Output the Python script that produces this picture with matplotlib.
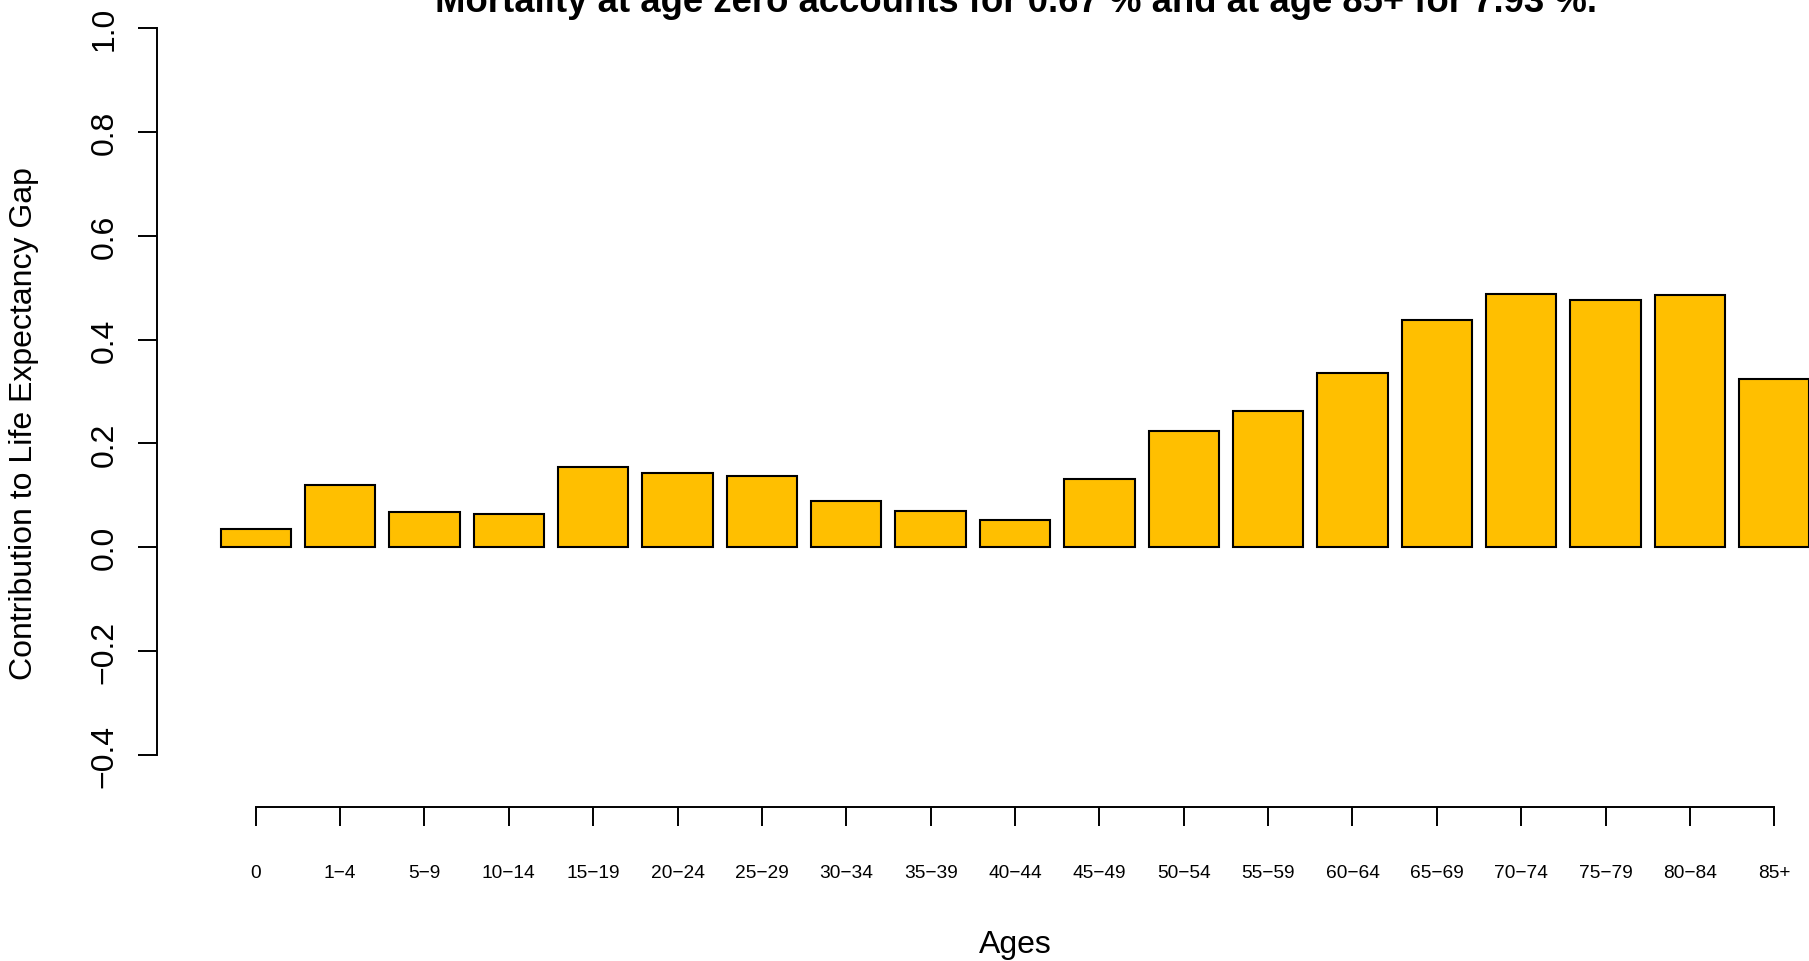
import matplotlib
matplotlib.use("Agg")
import matplotlib.pyplot as plt
import numpy as np

plt.rcParams['font.family'] = ['Liberation Sans', 'DejaVu Sans']

# Age groups and their contribution to the life expectancy gap
ages = ["0", "1-4", "5-9", "10-14", "15-19", "20-24", "25-29", "30-34", "35-39",
        "40-44", "45-49", "50-54", "55-59", "60-64", "65-69", "70-74", "75-79",
        "80-84", "85+"]
contrib = [0.036, 0.120, 0.068, 0.065, 0.155, 0.144, 0.138, 0.089, 0.070,
           0.053, 0.131, 0.223, 0.263, 0.336, 0.437, 0.488, 0.476, 0.485, 0.325]
yticks = [-0.4, -0.2, 0.0, 0.2, 0.4, 0.6, 0.8, 1.0]

title = "Mortality at age zero accounts for 0.67 % and at age 85+ for 7.93 %."
bar_color = "#FFBF00"

W, H = 1809, 962
fig = plt.figure(figsize=(W / 100, H / 100), dpi=100)

# plot region in pixels (R style barplot, right part cut off by the image edge)
px_left, px_right = 157, 1873
px_top, px_bottom = -0.1, 785.1
ax = fig.add_axes([px_left / W, (H - px_bottom) / H,
                   (px_right - px_left) / W, (px_bottom - px_top) / H])

# barplot geometry: width 1, space 0.2
n = len(ages)
centers = 0.7 + 1.2 * np.arange(n)
ax.bar(centers, contrib, width=1.0, color=bar_color, edgecolor="black", linewidth=1.5)

ax.set_xlim(-0.704, 23.704)
ax.set_ylim(-0.456, 1.056)

for s in ["top", "right"]:
    ax.spines[s].set_visible(False)
ax.spines["left"].set_bounds(-0.4, 1.0)
ax.spines["bottom"].set_bounds(centers[0], centers[-1])
ax.spines["bottom"].set_position(("outward", 16.3))
ax.spines["left"].set_linewidth(1.4)
ax.spines["bottom"].set_linewidth(1.4)

ax.set_yticks(yticks)
ax.set_yticklabels([("%.1f" % v).replace("-", "\u2212") for v in yticks],
                   rotation=90, va="center", fontsize=23)
ax.tick_params(axis="y", length=13.7, width=1.4, pad=13)

ax.set_xticks(centers)
ax.set_xticklabels([a.replace("-", "\u2212") for a in ages], fontsize=13.8)
ax.tick_params(axis="x", length=14, width=1.4, pad=27.5)

# title is partly outside the image like in the original
fig.text(1016 / W, (H - 11.7) / H, title, ha="center", va="baseline",
         fontsize=26.3, fontweight="bold")
fig.text(1015.8 / W, (H - 953.3) / H, "Ages", ha="center", va="baseline", fontsize=23)
fig.text(24 / W, (H - 424) / H, "Contribution to Life Expectancy Gap",
         ha="center", va="center", rotation=90, fontsize=23)

fig.savefig("out.png", dpi=100)
